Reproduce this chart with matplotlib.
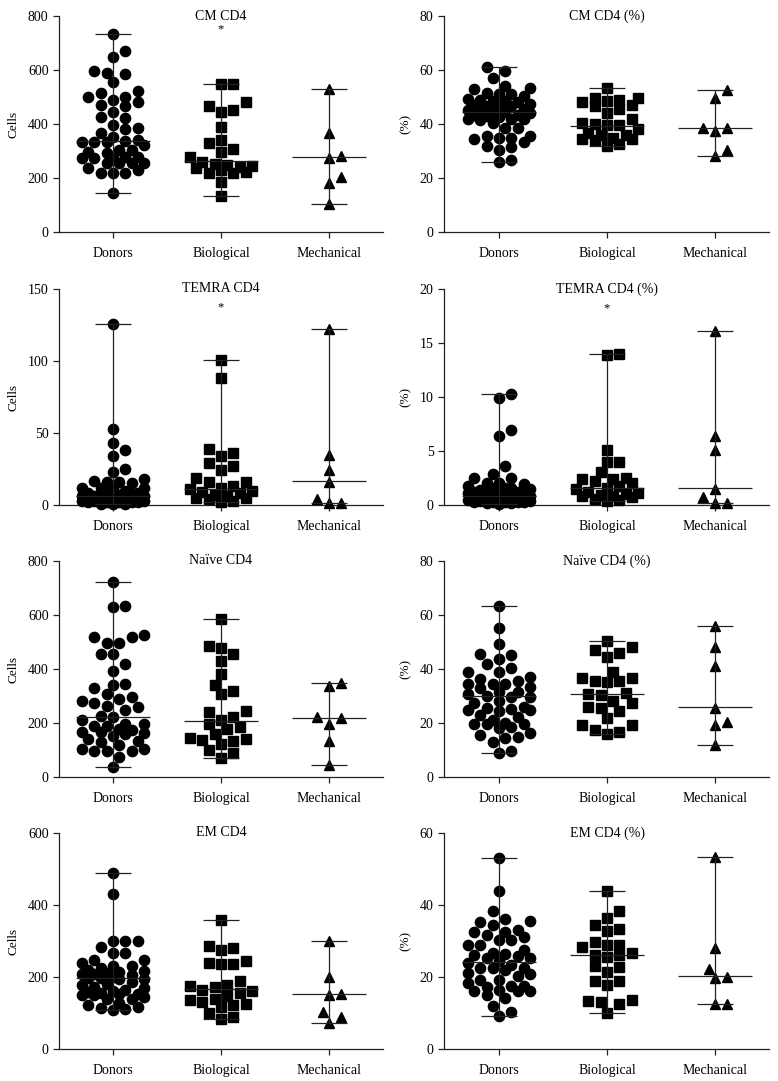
import matplotlib
matplotlib.use("Agg")
import matplotlib.pyplot as plt
import numpy as np

plt.rcParams['font.family'] = ['Liberation Serif', 'DejaVu Serif']

groups = ['Donors', 'Biological', 'Mechanical']

# ------------------------------------------------
# DATA
# ------------------------------------------------

# CM CD4 (cells)
cm_donors = [735, 670, 649, 597, 590, 587, 556, 523, 513, 501, 501, 489, 480, 470, 466, 446,
             427, 423, 396, 384, 382, 366, 353, 341, 338, 335, 335, 335, 322, 302, 302, 295,
             294, 279, 279, 273, 273, 273, 255, 255, 255, 255, 236, 230, 220, 220, 220, 146]
cm_bio = [550, 550, 482, 466, 452, 446, 390, 341, 331, 308, 298, 279, 261, 252, 249, 246,
          240, 236, 228, 224, 220, 218, 187, 132]
cm_mech = [528, 366, 283, 273, 202, 181, 105]
cm_med = [338, 263, 277]

# CM CD4 (%)
cm_pct_donors = [61.2, 59.7, 57.2, 54.0, 53.5, 53.0, 51.5, 51.0, 51.0, 50.5, 49.3, 49.0, 48.5,
                 48.5, 48.0, 47.5, 47.0, 46.8, 46.5, 46.0, 45.5, 45.0, 44.8, 44.5, 44.5, 44.0,
                 43.5, 43.5, 43.0, 42.5, 42.0, 42.0, 42.0, 41.5, 40.2, 38.5, 38.5, 35.5, 35.5,
                 35.0, 35.0, 34.3, 33.2, 32.0, 31.5, 30.5, 26.5, 26.0]
cm_pct_bio = [53.5, 49.8, 49.5, 49.0, 48.5, 48.0, 47.0, 46.5, 45.5, 44.0, 42.0, 40.5, 40.0,
              39.5, 39.5, 38.0, 36.5, 36.0, 36.0, 35.0, 34.5, 34.5, 34.0, 32.5, 31.8]
cm_pct_mech = [52.7, 49.5, 38.5, 38.5, 37.5, 30.5, 28.0]
cm_pct_med = [44.6, 39.4, 38.4]

# TEMRA CD4 (cells)
temra_donors = [126, 53, 43, 38, 34, 25, 23, 18, 17, 16, 16, 15, 12, 12, 12, 12, 10, 8, 8, 8,
                8, 7, 6, 6, 6, 6, 6, 5, 4, 4, 4, 4, 4, 4, 3, 3, 3, 3, 3, 3, 2, 2, 2, 2, 2,
                1, 1, 0.5]
temra_bio = [101, 88, 39, 36, 34, 29, 27, 24, 19, 16, 16, 13, 12, 11, 10, 9, 8, 7, 6, 5, 5,
             4, 3, 2]
temra_mech = [122, 35, 24, 16, 4, 1.5, 1.5]
temra_med = [6.3, 10.9, 16.7]

# TEMRA CD4 (%)
temra_pct_donors = [10.3, 9.9, 6.9, 6.4, 3.6, 2.9, 2.5, 2.5, 2.0, 2.0, 1.9, 1.8, 1.6, 1.6,
                    1.6, 1.5, 1.4, 1.3, 1.2, 1.2, 1.2, 1.1, 1.0, 1.0, 0.9, 0.9, 0.8, 0.8,
                    0.8, 0.7, 0.6, 0.6, 0.5, 0.5, 0.5, 0.5, 0.5, 0.5, 0.4, 0.4, 0.3, 0.3,
                    0.3, 0.3, 0.3, 0.2, 0.2, 0.1]
temra_pct_bio = [14.0, 13.9, 5.1, 4.0, 4.0, 3.1, 2.5, 2.4, 2.4, 2.2, 2.0, 1.8, 1.6, 1.5, 1.2,
                 1.1, 1.0, 0.9, 0.8, 0.8, 0.7, 0.6, 0.5, 0.4]
temra_pct_mech = [16.1, 6.4, 5.1, 1.5, 0.7, 0.2, 0.2]
temra_pct_med = [0.83, 1.6, 1.54]

# Naive CD4 (cells)
naive_donors = [723, 635, 630, 527, 519, 517, 497, 495, 457, 455, 417, 393, 345, 342, 328,
                308, 297, 290, 281, 274, 262, 258, 248, 225, 222, 210, 195, 195, 190, 188,
                178, 175, 167, 166, 163, 160, 153, 140, 135, 130, 120, 105, 103, 98, 98, 95,
                73, 37]
naive_bio = [585, 485, 477, 455, 428, 382, 342, 318, 308, 246, 240, 222, 212, 198, 185, 178,
             160, 145, 140, 137, 135, 122, 100, 88, 70]
naive_mech = [348, 338, 222, 218, 195, 133, 45]
naive_med = [222, 209, 218]

# Naive CD4 (%)
naive_pct_donors = [63.2, 55.3, 49.3, 45.6, 45.3, 43.8, 42.0, 40.5, 38.8, 38.8, 37.2, 36.2,
                    35.5, 34.6, 34.3, 34.3, 33.5, 32.8, 31.5, 31.5, 30.7, 30.0, 29.5, 29.5,
                    28.2, 27.5, 26.0, 25.5, 25.3, 25.0, 24.7, 24.5, 23.0, 22.3, 21.0, 20.0,
                    19.5, 19.5, 19.5, 18.5, 18.0, 16.2, 15.5, 14.8, 14.3, 12.8, 9.8, 9.0]
naive_pct_bio = [50.2, 48.0, 47.0, 45.8, 44.5, 39.0, 36.7, 36.5, 35.5, 35.5, 35.3, 31.2, 30.8,
                 30.5, 28.0, 27.5, 26.0, 25.5, 24.5, 22.0, 19.2, 19.2, 17.4, 16.5, 15.8]
naive_pct_mech = [56.0, 48.0, 41.2, 25.5, 20.2, 19.3, 12.0]
naive_pct_med = [30.0, 30.9, 25.9]

# EM CD4 (cells)
em_donors = [490, 430, 300, 300, 300, 283, 268, 268, 248, 248, 238, 230, 230, 225, 220, 218,
             215, 212, 208, 208, 205, 200, 196, 196, 195, 195, 185, 180, 178, 172, 170, 165,
             160, 158, 155, 152, 152, 150, 150, 145, 140, 140, 128, 122, 118, 115, 110, 107]
em_bio = [358, 285, 280, 275, 245, 238, 235, 235, 189, 178, 175, 172, 165, 160, 155, 148, 140,
          135, 130, 125, 122, 118, 100, 88, 82]
em_mech = [300, 200, 152, 150, 103, 90, 73]
em_med = [198, 167, 152]

# EM CD4 (%)
em_pct_donors = [53.0, 44.0, 38.2, 36.0, 35.5, 35.3, 34.5, 33.0, 32.5, 32.4, 31.8, 31.0, 30.3,
                 30.3, 29.0, 28.8, 27.5, 26.8, 26.5, 26.0, 25.8, 25.2, 25.2, 24.5, 24.0, 23.3,
                 22.6, 22.6, 22.5, 22.0, 21.2, 20.8, 20.3, 19.3, 19.3, 18.3, 17.5, 17.4, 17.2,
                 16.5, 16.2, 16.2, 16.0, 15.0, 14.3, 12.0, 10.2, 9.3]
em_pct_bio = [43.8, 38.3, 36.5, 34.5, 33.3, 32.7, 29.6, 28.8, 28.8, 28.4, 26.8, 26.2, 26.0,
              25.6, 23.0, 22.8, 21.3, 18.8, 18.8, 17.8, 13.7, 13.3, 13.0, 12.5, 10.0]
em_pct_mech = [53.2, 28.0, 22.3, 20.0, 19.6, 12.6, 12.6]
em_pct_med = [24.1, 26.1, 20.2]

# ------------------------------------------------
# PANEL SETUP
# ------------------------------------------------

panels = [
    ('CM CD4', 'Cells', 800, 200, (cm_donors, cm_bio, cm_mech), cm_med, 750),
    ('CM CD4 (%)', '(%)', 80, 20, (cm_pct_donors, cm_pct_bio, cm_pct_mech), cm_pct_med, None),
    ('TEMRA CD4', 'Cells', 150, 50, (temra_donors, temra_bio, temra_mech), temra_med, 137),
    ('TEMRA CD4 (%)', '(%)', 20, 5, (temra_pct_donors, temra_pct_bio, temra_pct_mech), temra_pct_med, 18.2),
    ('Naïve CD4', 'Cells', 800, 200, (naive_donors, naive_bio, naive_mech), naive_med, None),
    ('Naïve CD4 (%)', '(%)', 80, 20, (naive_pct_donors, naive_pct_bio, naive_pct_mech), naive_pct_med, None),
    ('EM CD4', 'Cells', 600, 200, (em_donors, em_bio, em_mech), em_med, None),
    ('EM CD4 (%)', '(%)', 60, 20, (em_pct_donors, em_pct_bio, em_pct_mech), em_pct_med, None),
]

W, H = 778, 1081
PX_CAT = 108.0  # pixels between categories
row_tops = [16, 289, 561, 833]
row_bots = [232, 505, 777, 1049]
col_x = [(59, 383, 113), (444, 769, 499)]  # left spine, right end, first category

markers = ['o', 's', '^']
msizes = [7.4, 6.6, 7.6]
line_col = '#222222'


def swarm(vals, px_per_unit, diam=11.0, step=6.2, max_off=34.0):
    vals = np.asarray(vals, float)
    y = vals * px_per_unit
    cands = [0.0]
    k = 1
    while k * step <= max_off:
        cands += [k * step, -k * step]
        k += 1
    offs = np.zeros(len(vals))
    placed = []
    for i in np.argsort(vals, kind='stable'):
        best, best_gap = 0.0, -1.0
        for c in cands:
            gap = min((np.hypot(c - px, y[i] - py) for px, py in placed), default=np.inf)
            if gap >= diam:
                best = c
                break
            if gap > best_gap:
                best_gap, best = gap, c
        offs[i] = best
        placed.append((best, y[i]))
    return offs / PX_CAT


fig = plt.figure(figsize=(W / 100, H / 100), dpi=100)

for idx, (title, ylab, ymax, ystep, data, med, star) in enumerate(panels):
    row, col = divmod(idx, 2)
    x0, x1, cx = col_x[col]
    top, bot = row_tops[row], row_bots[row]
    ax = fig.add_axes([x0 / W, 1 - bot / H, (x1 - x0) / W, (bot - top) / H])

    xmin = 1 + (x0 - cx) / PX_CAT
    xmax = 1 + (x1 - cx) / PX_CAT
    ax.set_xlim(xmin, xmax)
    ax.set_ylim(0, ymax)
    px_per_unit = (bot - top) / ymax

    for g, vals in enumerate(data):
        x = g + 1
        vals = np.asarray(vals, float)
        offs = swarm(vals, px_per_unit)
        ax.plot(x + offs, vals, ls='none', marker=markers[g], ms=msizes[g],
                color='black', mec='black', clip_on=False, zorder=3)
        ax.vlines(x, vals.min(), vals.max(), color=line_col, lw=0.9, zorder=4)
        ax.hlines([vals.min(), vals.max()], x - 0.165, x + 0.165,
                  color=line_col, lw=0.9, zorder=4)
        ax.hlines(med[g], x - 0.34, x + 0.34, color=line_col, lw=0.9, zorder=4)

    if star is not None:
        ax.text(2, star, '*', ha='center', va='center', fontsize=9)

    ax.text(2, ymax, title, ha='center', va='center', fontsize=10)

    ax.set_xticks([1, 2, 3])
    ax.set_xticklabels(groups)
    ax.set_yticks(np.arange(0, ymax + 1e-9, ystep))
    ax.set_ylabel(ylab, fontsize=9.5, labelpad=6)

    for s in ['top', 'right']:
        ax.spines[s].set_visible(False)
    for s in ['left', 'bottom']:
        ax.spines[s].set_color('#222222')
        ax.spines[s].set_linewidth(0.9)
    ax.tick_params(direction='out', length=4.5, width=0.9, color='#222222',
                   labelsize=10, pad=3)
    ax.tick_params(axis='x', pad=6)

fig.savefig('out.png', dpi=100)
